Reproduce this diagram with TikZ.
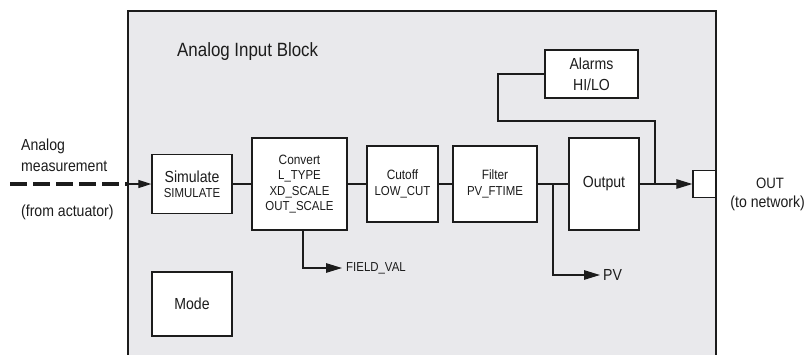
\documentclass[tikz,border=0pt]{standalone}
\usepackage{fontspec}
\setmainfont[FakeStretch=0.88]{Liberation Sans}
\usetikzlibrary{arrows.meta}
\definecolor{panel}{RGB}{233,233,236}
\definecolor{ink}{RGB}{28,28,28}
\newcommand\fsz[2]{\fontsize{#1}{#2}\selectfont}
\begin{document}
\begin{tikzpicture}[x=1pt,y=-1pt,
  blk/.style={draw=ink, line width=1.3pt, fill=white, rectangle, inner sep=0pt, align=center, text=ink},
  conn/.style={draw=ink, line width=1.2pt},
  tip/.style={-{Triangle[length=16pt,width=9.5pt]}},
  smalltip/.style={-{Triangle[length=13pt,width=8pt]}},
  lbl/.style={text=ink, inner sep=0pt}]
\useasboundingbox (0,0) rectangle (806,354);
\clip (0,0) rectangle (806,354);
% panel
\draw[draw=ink, line width=1.2pt, fill=panel] (128,11) rectangle (716,380);
\node[lbl, anchor=base west, font=\fsz{19.2}{21}] (title) at (177,56) {Analog Input Block};

% blocks
\node[blk, minimum width=80pt, minimum height=59pt, font=\fsz{16}{15}] (sim) at (192,184)
  {Simulate\\{\fsz{13}{15}SIMULATE}};
\node[blk, minimum width=95pt, minimum height=92pt, font=\fsz{13}{15.3}] (conv) at (299.5,184)
  {{\fsz{13.5}{15.3}Convert}\\L\_TYPE\\XD\_SCALE\\OUT\_SCALE};
\node[blk, minimum width=71pt, minimum height=76pt, font=\fsz{13}{16}] (cut) at (402.5,184)
  {{\fsz{13.5}{16}Cutoff}\\LOW\_CUT};
\node[blk, minimum width=84pt, minimum height=76pt, font=\fsz{13}{16}] (filt) at (495,184)
  {{\fsz{13.5}{16}Filter}\\PV\_FTIME};
\node[blk, minimum width=70pt, minimum height=92pt, font=\fsz{16}{18}] (outp) at (604,184) {Output};
\node[blk, minimum width=93pt, minimum height=48pt, font=\fsz{16}{21}] (alarm) at (591.5,74) {Alarms\\HI/LO};
\node[blk, minimum width=23pt, minimum height=27pt] (outbox) at (704.5,184) {};
\node[blk, minimum width=80pt, minimum height=64pt, font=\fsz{16}{18}] (mode) at (192,304) {Mode};

% outside labels
\node[lbl, anchor=base west, font=\fsz{16}{18}] (lin1) at (21,150) {Analog};
\node[lbl, anchor=base west, font=\fsz{16}{18}] (lin2) at (21,171) {measurement};
\node[lbl, anchor=base west, font=\fsz{16}{18}] (lin3) at (21,216) {(from actuator)};
\node[lbl, anchor=base, font=\fsz{15}{18}] (out1) at (770,188) {OUT};
\node[lbl, anchor=base east, font=\fsz{16}{18}] (out2) at (805,207) {(to network)};
\node[lbl, anchor=west, inner xsep=4pt, font=\fsz{13}{15}] (fv) at (342,268) {FIELD\_VAL};
\node[lbl, anchor=west, inner xsep=3pt, font=\fsz{16}{18}] (pv) at (600,275) {PV};

% coordinates
\coordinate (src) at (10,184);
\coordinate (edge) at (128,184);
\coordinate (jn) at (655,184);
\coordinate (loop) at (498,121);
\coordinate (pvj) at (553,184);

% connectors
\draw[ink, line width=3.6pt, dash pattern=on 17pt off 6pt] (src) -- (edge);
\draw[conn, smalltip] (edge) -- (sim.west);
\draw[conn] (sim) -- (conv);
\draw[conn] (conv) -- (cut);
\draw[conn] (cut) -- (filt);
\draw[conn] (filt) -- (outp);
\draw[conn, tip] (outp) -- (outbox);
\draw[conn] (jn) |- (loop) |- (alarm.west);
\draw[conn, tip] ([xshift=3.5pt]conv.south) |- (fv.west);
\draw[conn, tip] (pvj) |- (pv.west);
\end{tikzpicture}
\end{document}
